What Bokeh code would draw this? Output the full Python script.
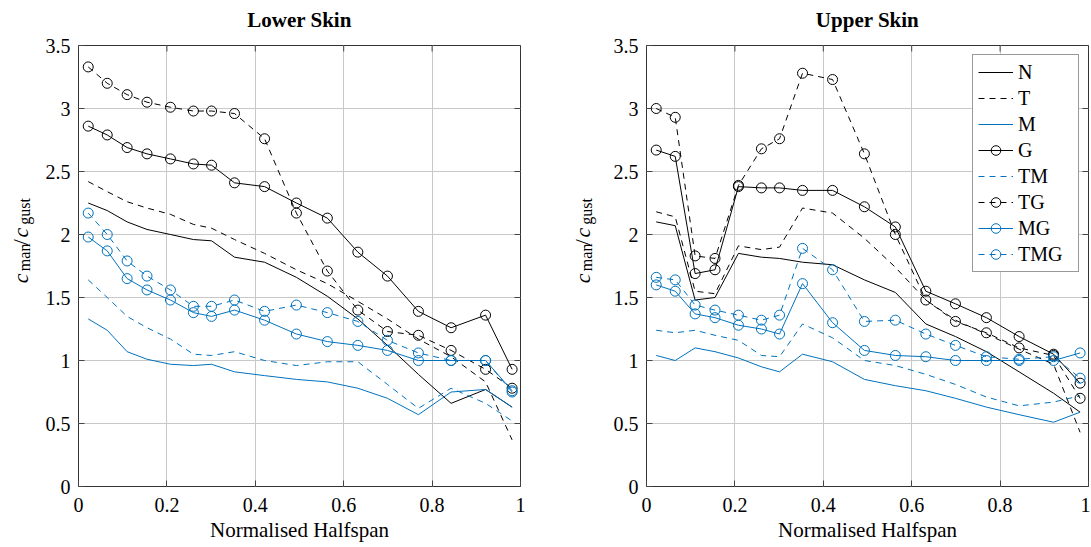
import math
from bokeh.plotting import figure
from bokeh.models import (FixedTicker, Legend, LegendItem, Range1d, CustomJSTickFormatter)
from bokeh.core.properties import value
from bokeh.layouts import row, column
from bokeh.embed import file_html
from bokeh.resources import INLINE

# ---------------- data ----------------
halfspan = [0.022, 0.065, 0.110, 0.155, 0.208, 0.260, 0.301, 0.353, 0.421,
            0.493, 0.563, 0.632, 0.699, 0.769, 0.843, 0.921, 0.981]

# Lower skin
N_lower = [2.25, 2.19, 2.10, 2.04, 2.00, 1.96, 1.95, 1.82, 1.78, 1.66, 1.51, 1.33, 1.12, 0.89, 0.66, 0.77, 0.63]
T_lower = [2.42, 2.34, 2.26, 2.21, 2.16, 2.08, 2.05, 1.96, 1.85, 1.72, 1.61, 1.47, 1.33, 1.17, 1.03, 0.83, 0.37]
M_lower = [1.33, 1.24, 1.07, 1.01, 0.97, 0.96, 0.97, 0.91, 0.88, 0.85, 0.83, 0.78, 0.70, 0.57, 0.75, 0.77, 0.63]
G_lower = [2.86, 2.79, 2.69, 2.64, 2.60, 2.56, 2.55, 2.41, 2.38, 2.25, 2.13, 1.86, 1.67, 1.39, 1.26, 1.36, 0.93]
TM_lower = [1.64, 1.50, 1.35, 1.26, 1.17, 1.05, 1.04, 1.07, 1.00, 0.96, 0.99, 0.99, 0.81, 0.62, 0.78, 0.66, 0.52]
TG_lower = [3.33, 3.20, 3.11, 3.05, 3.01, 2.98, 2.98, 2.96, 2.76, 2.17, 1.71, 1.40, 1.23, 1.20, 1.08, 0.93, 0.78]
MG_lower = [1.98, 1.87, 1.65, 1.56, 1.48, 1.38, 1.35, 1.40, 1.32, 1.21, 1.15, 1.12, 1.08, 1.00, 1.00, 1.00, 0.76]
TMG_lower = [2.17, 2.00, 1.79, 1.67, 1.56, 1.43, 1.43, 1.48, 1.39, 1.44, 1.38, 1.31, 1.16, 1.06, 1.00, 1.00, 0.75]

# Upper skin
N_upper = [2.10, 2.07, 1.48, 1.50, 1.85, 1.82, 1.81, 1.78, 1.76, 1.64, 1.54, 1.29, 1.19, 1.07, 0.91, 0.74, 0.59]
T_upper = [2.18, 2.14, 1.55, 1.53, 1.91, 1.88, 1.90, 2.21, 2.17, 1.97, 1.74, 1.48, 1.32, 1.21, 1.09, 0.97, 0.43]
M_upper = [1.04, 1.00, 1.10, 1.07, 1.02, 0.95, 0.91, 1.05, 0.99, 0.85, 0.80, 0.76, 0.70, 0.63, 0.57, 0.51, 0.59]
G_upper = [2.67, 2.62, 1.69, 1.72, 2.38, 2.37, 2.37, 2.35, 2.35, 2.22, 2.06, 1.55, 1.45, 1.34, 1.19, 1.05, 0.82]
TM_upper = [1.24, 1.22, 1.24, 1.20, 1.16, 1.04, 1.03, 1.29, 1.18, 1.00, 0.96, 0.89, 0.81, 0.71, 0.64, 0.67, 0.72]
TG_upper = [3.00, 2.93, 1.83, 1.81, 2.39, 2.68, 2.76, 3.28, 3.23, 2.64, 2.00, 1.48, 1.31, 1.22, 1.10, 1.04, 0.70]
MG_upper = [1.60, 1.55, 1.37, 1.34, 1.28, 1.25, 1.21, 1.61, 1.30, 1.08, 1.04, 1.03, 1.00, 1.00, 1.00, 1.00, 1.06]
TMG_upper = [1.66, 1.64, 1.44, 1.40, 1.36, 1.32, 1.36, 1.89, 1.72, 1.31, 1.32, 1.21, 1.12, 1.03, 1.01, 1.03, 0.86]

series_names = ["N", "T", "M", "G", "TM", "TG", "MG", "TMG"]
panel_titles = ["Lower Skin", "Upper Skin"]
x_ticks = [0, 0.2, 0.4, 0.6, 0.8, 1]
y_ticks = [0, 0.5, 1, 1.5, 2, 2.5, 3, 3.5]
x_title = "Normalised Halfspan"
# y title  c_man / c_gust  as (text, is_subscript) pieces
y_title_pieces = [("c", False), ("man", True), ("/", False), ("c", False), ("gust", True)]

# ---------------- style / layout ----------------
BLUE = "#0072BD"
BLACK = "#000000"
FONT = "Liberation Serif"
TICK = "#444444"
DASH = "6 5"
styles = {
    "N": (BLACK, "solid", False),
    "T": (BLACK, DASH, False),
    "M": (BLUE, "solid", False),
    "G": (BLACK, "solid", True),
    "TM": (BLUE, DASH, False),
    "TG": (BLACK, DASH, True),
    "MG": (BLUE, "solid", True),
    "TMG": (BLUE, DASH, True),
}

FRAME_W, FRAME_H = 442, 441
XMAX, YMAX = 1.0, 3.5
TITLE_H = 32          # height of the strip holding the panel titles
TITLE_BASE = 19       # anchor of the titles, from the top of the page
TOP_GAP = 13          # gap between title strip and axis box
FIG_H = 512           # height of the label strips (below the title strip)
LAB1_W, P_LEFT1, P_RIGHT1 = 40, 38, 10
LAB2_W, P_LEFT2, P_RIGHT2 = 70, 46, 2
TOTAL_W = LAB1_W + P_LEFT1 + FRAME_W + P_RIGHT1 + LAB2_W + P_LEFT2 + FRAME_W + P_RIGHT2
# page-y (from top of the page) where each y-title piece starts (text runs upwards)
PIECE_START = [308, 294, 264, 255, 240]
fmt = CustomJSTickFormatter(code="return tick.toString();")


def make_panel(data, left_border, right_border, with_legend):
    p = figure(frame_width=FRAME_W, frame_height=FRAME_H,
               x_range=Range1d(0, XMAX), y_range=Range1d(0, YMAX),
               output_backend="svg", toolbar_location=None,
               min_border_left=left_border, min_border_right=right_border,
               min_border_top=TOP_GAP, min_border_bottom=5,
               background_fill_color="white", border_fill_color="white",
               outline_line_color="#333333", outline_line_width=1)
    p.title = None

    for ax in p.xaxis:
        ax.ticker = FixedTicker(ticks=x_ticks)
        ax.formatter = fmt
        ax.axis_label = x_title
        ax.axis_label_text_font = FONT
        ax.axis_label_text_font_size = "21px"
        ax.axis_label_text_font_style = "normal"
        ax.axis_label_standoff = 3
        ax.major_label_standoff = 11
    for ax in p.yaxis:
        ax.ticker = FixedTicker(ticks=y_ticks)
        ax.formatter = fmt
        ax.major_label_standoff = 8
    for ax in list(p.xaxis) + list(p.yaxis):
        ax.major_label_text_font = FONT
        ax.major_label_text_font_size = "20px"
        ax.major_label_text_color = "black"
        ax.axis_label_text_color = "black"
        ax.axis_line_color = None
        ax.major_tick_in = 6
        ax.major_tick_out = 0
        ax.major_tick_line_color = TICK
        ax.minor_tick_line_color = None

    p.grid.grid_line_color = "#c8c8c8"
    p.grid.grid_line_width = 1
    p.xgrid.ticker = FixedTicker(ticks=x_ticks)
    p.ygrid.ticker = FixedTicker(ticks=y_ticks)

    # inward ticks on the top and right edges of the axis box
    tx = 6 * XMAX / FRAME_W
    ty = 6 * YMAX / FRAME_H
    p.segment(x0=x_ticks, y0=[YMAX] * len(x_ticks), x1=x_ticks, y1=[YMAX - ty] * len(x_ticks),
              line_color=TICK, line_width=1)
    p.segment(x0=[XMAX] * len(y_ticks), y0=y_ticks, x1=[XMAX - tx] * len(y_ticks), y1=y_ticks,
              line_color=TICK, line_width=1)

    items = []
    for name in series_names:
        color, dash, marker = styles[name]
        rs = [p.line(halfspan, data[name], line_color=color, line_width=1, line_dash=dash)]
        if marker:
            rs.append(p.scatter(halfspan, data[name], marker="circle", size=10,
                                line_color=color, fill_color=None, line_width=1))
        items.append(LegendItem(label=name, renderers=rs))

    if with_legend:
        lg = Legend(items=items, location="top_right", margin=9, padding=5,
                    spacing=2, label_height=24, glyph_height=24, glyph_width=35,
                    label_width=55, label_standoff=5,
                    label_text_font=FONT, label_text_font_size="20px",
                    label_text_color="black",
                    border_line_color="#333333", border_line_width=1,
                    background_fill_color="white", background_fill_alpha=1)
        p.add_layout(lg)
    return p


def blank(width, height):
    b = figure(width=width, height=height, x_range=Range1d(0, width), y_range=Range1d(0, height),
               x_axis_type=None, y_axis_type=None, toolbar_location=None,
               output_backend="svg", min_border=0, outline_line_color=None,
               background_fill_color="white", border_fill_color="white")
    b.grid.grid_line_color = None
    b.title = None
    return b


def make_ylabel(width, baseline_x):
    """Narrow blank strip holding the rotated y-axis title c_man/c_gust."""
    lp = blank(width, FIG_H)
    main_fs, sub_fs = 22, 16
    for (txt, sub), start in zip(y_title_pieces, PIECE_START):
        lp.text(x=[baseline_x + (4 if sub else 0)], y=[FIG_H - (start - TITLE_H)], text=[txt],
                angle=math.pi / 2,
                text_font=value(FONT), text_font_size=value(f"{sub_fs if sub else main_fs}px"),
                text_font_style=value("normal" if (sub or txt == "/") else "italic"),
                text_align="left", text_baseline="alphabetic", text_color="black")
    return lp


def make_titles():
    tp = blank(TOTAL_W, TITLE_H)
    c1 = LAB1_W + P_LEFT1 + FRAME_W / 2
    c2 = LAB1_W + P_LEFT1 + FRAME_W + P_RIGHT1 + LAB2_W + P_LEFT2 + FRAME_W / 2
    tp.text(x=[c1, c2], y=[TITLE_H - TITLE_BASE] * 2, text=panel_titles,
            text_font=value(FONT), text_font_size=value("21px"), text_font_style=value("bold"),
            text_align="center", text_baseline="alphabetic", text_color="black")
    return tp


lower = {"N": N_lower, "T": T_lower, "M": M_lower, "G": G_lower,
         "TM": TM_lower, "TG": TG_lower, "MG": MG_lower, "TMG": TMG_lower}
upper = {"N": N_upper, "T": T_upper, "M": M_upper, "G": G_upper,
         "TM": TM_upper, "TG": TG_upper, "MG": MG_upper, "TMG": TMG_upper}

lab1 = make_ylabel(LAB1_W, 20)
p1 = make_panel(lower, P_LEFT1, P_RIGHT1, False)
lab2 = make_ylabel(LAB2_W, 52)
p2 = make_panel(upper, P_LEFT2, P_RIGHT2, True)

layout = column(make_titles(), row(lab1, p1, lab2, p2))
open("out.html", "w").write(file_html(layout, INLINE))
